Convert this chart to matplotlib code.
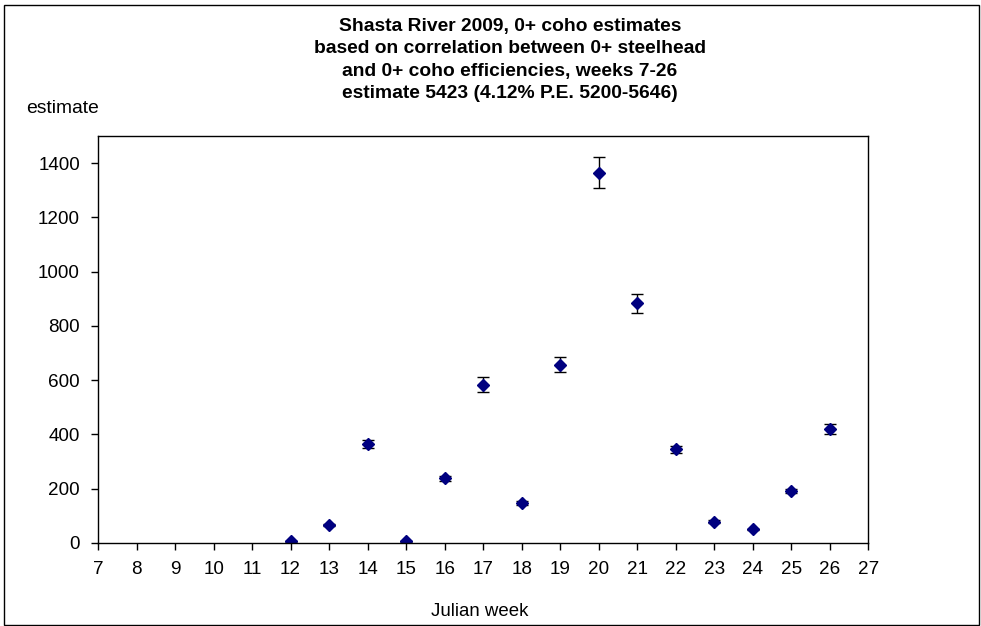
import matplotlib.pyplot as plt
from matplotlib.patches import Rectangle

plt.rcParams['font.family'] = ['Liberation Sans', 'DejaVu Sans']

# weekly 0+ coho estimates with error
weeks = [12, 13, 14, 15, 16, 17, 18, 19, 20, 21, 22, 23, 24, 25, 26]
estimate = [7, 66, 365, 7, 238, 584, 147, 657, 1364, 883, 345, 79, 50, 192, 421]
err = [2, 4, 14, 2, 9, 26, 6, 27, 57, 36, 13, 4, 3, 7, 18]
xticks = list(range(7, 28))
yticks = list(range(0, 1401, 200))

title = ("Shasta River 2009, 0+ coho estimates\n"
         "based on correlation between 0+ steelhead\n"
         "and 0+ coho efficiencies, weeks 7-26\n"
         "estimate 5423 (4.12% P.E. 5200-5646)")

fig = plt.figure(figsize=(9.81, 6.26), dpi=100)
ax = fig.add_axes([0.0999, 0.1326, 0.7854, 0.6501])

#error bars + diamond markers
ax.errorbar(weeks, estimate, yerr=err, fmt='D', color='#000080', markersize=6,
            ecolor='black', elinewidth=1, capsize=4.5, capthick=1)

ax.set_xlim(7, 27)
ax.set_ylim(0, 1500)
ax.set_xticks(xticks)
ax.set_yticks(yticks)
ax.tick_params(axis='both', direction='out', length=5, width=1, labelsize=13.6, color='black')
ax.tick_params(axis='x', pad=8)
ax.tick_params(axis='y', pad=8)
for s in ax.spines.values():
    s.set_linewidth(1)
    s.set_color('black')

fig.text(0.52, 0.904, title, ha='center', va='center', fontsize=13.9,
         fontweight='bold', linespacing=1.4)
fig.text(0.0265, 0.826, "estimate", ha='left', va='center', fontsize=13.9)
fig.text(0.489, 0.0224, "Julian week", ha='center', va='center', fontsize=13.4)

# border round the whole chart
fig.patches.append(Rectangle((4/981, 1/626), 975/981, 620/626, transform=fig.transFigure,
                             fill=False, edgecolor='black', linewidth=1))

fig.savefig('out.png', dpi=100)
